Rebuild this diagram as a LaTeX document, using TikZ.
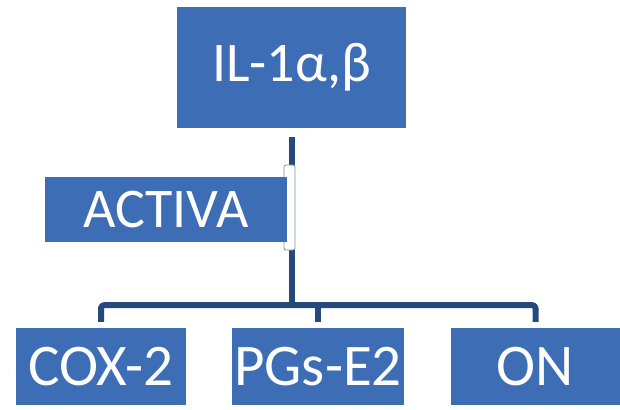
\documentclass[tikz,border=0pt]{standalone}
\usepackage{fontspec}
\setmainfont{Carlito}
\usetikzlibrary{calc,positioning}
\definecolor{boxblue}{HTML}{3D6DB5}
\definecolor{linkblue}{HTML}{25497B}
\definecolor{rimgrey}{HTML}{7D8FA8}
\tikzset{
  blockbox/.style={rectangle,fill=boxblue,text=white,inner sep=0pt,
    font=\fontsize{56}{60}\selectfont},
  leafbox/.style={blockbox,minimum height=77pt,font=\fontsize{59}{62}\selectfont},
  link/.style={draw=linkblue,line width=6pt,line join=round},
  rim/.style={draw=rimgrey,fill=white,line width=.8pt}}

\begin{document}
\begin{tikzpicture}[x=1pt,y=-1pt]
\useasboundingbox (0,0) rectangle (620,409);

\node[blockbox,minimum width=229pt,minimum height=121pt] (il1) at (291.5,67.5) {IL-1α,β};
\node[leafbox,minimum width=170pt] (cox) at (101,366.5) {\raisebox{-4pt}{COX-2}};
\node[leafbox,minimum width=172pt] (pgs) at (318,366.5) {\raisebox{-4pt}{PGs-E2}};
\node[leafbox,minimum width=169pt] (on) at (535.5,366.5) {\raisebox{-4pt}{ON}};

\coordinate (hub) at ($(il1.south)+(0,177)$);
\coordinate (coxtop) at ($(cox.north)+(0,-6)$);\coordinate (pgstop) at ($(pgs.north)+(0,-6)$);
\coordinate (ontop) at ($(on.north)+(0,-6)$);
\draw[link] ($(il1.south)+(0,9)$) -- (hub);
\draw[link,rounded corners=3pt] (coxtop) |- (hub) -| (ontop);
\draw[link] (pgstop) -- (pgstop |- hub);

\draw[rim,rounded corners=2pt] (284,165) rectangle (295,250);
\node[blockbox,minimum width=242pt,minimum height=65pt] (activa) at (166,209.5) {ACTIVA};
\end{tikzpicture}
\end{document}
